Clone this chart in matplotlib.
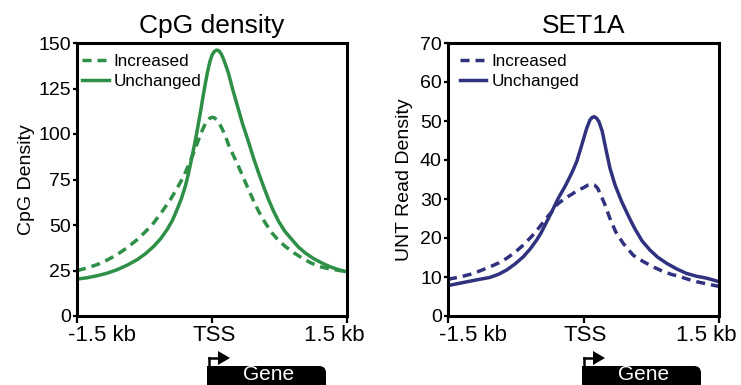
import matplotlib
matplotlib.use("Agg")
import matplotlib.pyplot as plt
from matplotlib.patches import FancyBboxPatch, Rectangle, Polygon
from matplotlib.lines import Line2D
from matplotlib.transforms import ScaledTranslation

plt.rcParams['font.family'] = ['Liberation Sans', 'DejaVu Sans']
plt.rcParams['lines.scale_dashes'] = False

# ---------------- data ----------------
xtick_pos = [-1.5, 0, 1.5]
xtick_labels = ["-1.5 kb", "TSS", "1.5 kb"]

cpg_x_unch = [-1.5, -1.39, -1.278, -1.167, -1.056, -0.944, -0.833, -0.74, -0.649, -0.57,
              -0.5, -0.44, -0.389, -0.34, -0.297, -0.265, -0.241, -0.22, -0.197, -0.17,
              -0.15, -0.125, -0.1, -0.075, -0.05, -0.025, 0.0, 0.025, 0.05, 0.075,
              0.1, 0.125, 0.15, 0.184, 0.23, 0.284, 0.34, 0.407, 0.46, 0.518,
              0.57, 0.629, 0.68, 0.74, 0.81, 0.889, 0.96, 1.037, 1.13, 1.222,
              1.31, 1.407, 1.5]
cpg_unch = [20.3, 21.0, 22.1, 23.5, 25.4, 27.9, 30.9, 34.2, 38.2, 42.5,
            47.4, 52.5, 58.4, 64.5, 71.2, 77.5, 83.0, 88.0, 93.5, 100.5,
            106, 113, 120.5, 127.5, 134, 139.5, 143.3, 145.3, 146.1, 145.8,
            144.2, 141.5, 138.2, 133.2, 124.5, 115.2, 105.5, 95.5, 87, 78.6,
            71.5, 63.9, 58, 52, 46.5, 41.9, 37.9, 34.6, 31.5, 29.1,
            27.1, 25.4, 24.3]

cpg_x_inc = [-1.5, -1.39, -1.278, -1.167, -1.056, -0.944, -0.833, -0.74, -0.649, -0.56,
             -0.463, -0.39, -0.315, -0.26, -0.204, -0.149, -0.1, -0.06, -0.03, 0.0,
             0.03, 0.06, 0.085, 0.111, 0.15, 0.184, 0.24, 0.296, 0.35, 0.407,
             0.46, 0.518, 0.59, 0.667, 0.74, 0.815, 0.91, 1.0, 1.09, 1.185,
             1.3, 1.407, 1.5]
cpg_inc = [24.9, 26.4, 28.2, 30.7, 33.7, 37.5, 41.9, 46.3, 51.1, 57.0,
           63.9, 70.0, 76.7, 83.0, 89.6, 96.9, 103.0, 106.9, 108.5, 109.2,
           108.8, 107.3, 105.5, 103.0, 98.8, 94.0, 88.0, 82.0, 75.8, 69.4,
           63.5, 57.5, 51.3, 45.6, 41.5, 38.2, 34.7, 31.9, 29.4, 27.3,
           25.9, 25.1, 24.3]

set_x_unch = [-1.5, -1.35, -1.22, -1.035, -0.94, -0.85, -0.76, -0.666, -0.59, -0.518,
              -0.47, -0.426, -0.352, -0.279, -0.205, -0.131, -0.075, -0.02, 0.035, 0.072,
              0.095, 0.12, 0.145, 0.172, 0.208, 0.246, 0.293, 0.349, 0.423, 0.515,
              0.57, 0.65, 0.736, 0.82, 0.921, 1.03, 1.142, 1.25, 1.364, 1.5]
set_unch = [7.8, 8.5, 9.1, 9.9, 10.7, 11.8, 13.3, 15.2, 17.2, 19.5,
            21.3, 23.3, 26.7, 30.2, 33.2, 36.6, 39.6, 43.8, 48.1, 50.3,
            50.9, 51.1, 50.7, 49.8, 47.3, 43.0, 37.9, 33.6, 29.3, 24.8,
            22.3, 19.2, 16.9, 15.1, 13.5, 12.1, 10.9, 10.2, 9.7, 8.8]

set_x_inc = [-1.5, -1.35, -1.22, -1.035, -0.94, -0.85, -0.76, -0.666, -0.57, -0.48,
             -0.40, -0.333, -0.297, -0.205, -0.13, -0.075, 0.0, 0.053, 0.09, 0.12,
             0.155, 0.183, 0.238, 0.293, 0.356, 0.44, 0.55, 0.62, 0.698, 0.79,
             0.882, 0.97, 1.067, 1.16, 1.25, 1.37, 1.5]
set_inc = [9.4, 10.1, 10.9, 12.6, 13.6, 14.8, 16.3, 18.2, 20.5, 23.0,
           25.4, 27.2, 28.5, 30.2, 31.2, 32.1, 32.9, 33.6, 33.8, 33.6,
           32.8, 31.5, 28.5, 25.0, 21.6, 18.6, 15.6, 14.5, 13.5, 12.4,
           11.4, 10.7, 10.1, 9.4, 8.8, 8.2, 7.6]

green = "#2e8f47"
navy = "#30317f"

W, H = 741, 385
fig = plt.figure(figsize=(W / 100, H / 100), dpi=100)


def px_axes(x0, x1, ytop, ybot):
    return fig.add_axes([x0 / W, 1 - ybot / H, (x1 - x0) / W, (ybot - ytop) / H])


ax1 = px_axes(77, 347, 43, 316)
ax2 = px_axes(448, 719, 43, 316)

dash = (6.5, 4.3)
lw = 2.5

panels = [
    (ax1, cpg_x_inc, cpg_inc, cpg_x_unch, cpg_unch, green, "CpG density", "CpG Density",
     (0, 150), [0, 25, 50, 75, 100, 125, 150], 0.006, 2),
    (ax2, set_x_inc, set_inc, set_x_unch, set_unch, navy, "SET1A", "UNT Read Density",
     (0, 70), [0, 10, 20, 30, 40, 50, 60, 70], 0.031, 5),
]

label_shift_px = [25, 2, -13]

for ax, xi, yi, xu, yu, col, title, ylabel, ylim, yticks, legx, lpad in panels:
    ax.plot(xi, yi, color=col, lw=lw, dashes=dash, label="Increased",
            dash_capstyle='butt', solid_joinstyle='round', dash_joinstyle='round')
    ax.plot(xu, yu, color=col, lw=lw, label="Unchanged", solid_joinstyle='round')
    ax.set_xlim(-1.5, 1.5)
    ax.set_ylim(*ylim)
    ax.set_yticks(yticks)
    ax.set_xticks(xtick_pos)
    ax.set_xticklabels(xtick_labels)
    for s in ax.spines.values():
        s.set_linewidth(2.2)
    ax.tick_params(axis='y', direction='out', length=3, width=1.6, pad=1.5, labelsize=14)
    ax.tick_params(axis='x', direction='out', length=5, width=1.6, pad=1.5, labelsize=16)
    for lab, dx in zip(ax.get_xticklabels(), label_shift_px):
        lab.set_transform(lab.get_transform() + ScaledTranslation(dx / 100, 0, fig.dpi_scale_trans))
    ax.set_title(title, fontsize=19, pad=7)
    ax.set_ylabel(ylabel, fontsize=14, labelpad=lpad)
    ax.legend(loc='upper left', bbox_to_anchor=(legx, 0.971), frameon=False,
              fontsize=12.3, handlelength=1.55, handletextpad=0.3,
              labelspacing=0.3, borderaxespad=0.0, borderpad=0.2)

# ---------------- gene schematic ----------------
tr = fig.dpi_scale_trans


def gene(x0, x1, tss_x):
    ytop = 366
    ybot = 400
    box = FancyBboxPatch((x0 / 100, (H - ybot) / 100), (x1 - x0) / 100, (ybot - ytop) / 100,
                         boxstyle="round,pad=0,rounding_size=0.07",
                         transform=tr, facecolor="black", edgecolor="none", clip_on=False)
    fig.add_artist(box)
    fig.add_artist(Rectangle((x0 / 100, (H - ytop - 10) / 100), 0.1, 0.1, transform=tr,
                             facecolor="black", edgecolor="none"))
    yarr = 358
    fig.add_artist(Line2D([tss_x / 100, tss_x / 100], [(H - ytop - 2) / 100, (H - yarr) / 100],
                          transform=tr, color="black", lw=1.8, solid_capstyle='projecting'))
    fig.add_artist(Line2D([tss_x / 100, (tss_x + 10) / 100], [(H - yarr) / 100, (H - yarr) / 100],
                          transform=tr, color="black", lw=1.8))
    fig.add_artist(Polygon([[(tss_x + 9) / 100, (H - yarr + 7) / 100],
                            [(tss_x + 21) / 100, (H - yarr) / 100],
                            [(tss_x + 9) / 100, (H - yarr - 7) / 100]],
                           closed=True, transform=tr, facecolor="black", edgecolor="none"))
    fig.text(((x0 + x1) / 2 + 2) / W, 1 - 380.5 / H, "Gene", color="white", fontsize=15,
             ha="center", va="baseline")


gene(207, 326, 209)
gene(582, 701, 584)

fig.savefig("out.png", dpi=100)
